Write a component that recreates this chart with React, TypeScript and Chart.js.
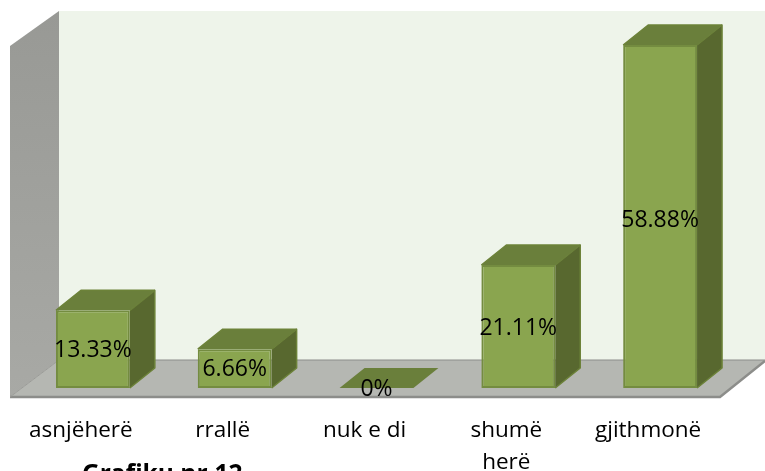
import React, { useEffect, useRef } from "react";
import { Chart, registerables } from "chart.js";

Chart.register(...registerables);

const categories: (string | string[])[] = ["asnjëherë", "rrallë", "nuk e di", ["shumë", "herë"], "gjithmonë"];
const values = [13.33, 6.66, 0, 21.11, 58.88];
const valueLabels = ["13.33%", "6.66%", "0%", "21.11%", "58.88%"];
const titleText = "Grafiku nr.12";

const FONT = '"Open Sans", sans-serif';
const DX = 25;
const DY = 20;

const poly = (ctx: CanvasRenderingContext2D, pts: number[][], fill: string | CanvasGradient) => {
  ctx.beginPath();
  pts.forEach((p, i) => (i ? ctx.lineTo(p[0], p[1]) : ctx.moveTo(p[0], p[1])));
  ctx.closePath();
  ctx.fillStyle = fill;
  ctx.fill();
};

const box3d = {
  id: "box3d",
  beforeDatasetsDraw(chart: any) {
    const ctx: CanvasRenderingContext2D = chart.ctx;
    const base = chart.scales.y.getPixelForValue(0);
    const top = chart.scales.y.getPixelForValue(values[4]);
    const floorFront = base + 9;
    const floorBack = base - 28;
    const wallTop = top - 34;
    const xl = 10;
    const xb = 59;
    const W = chart.width;
    ctx.save();
    poly(ctx, [[xb, wallTop], [W, wallTop], [W, floorBack], [xb, floorBack]], "#eef4ea");
    const g = ctx.createLinearGradient(0, wallTop, 0, floorFront);
    g.addColorStop(0, "#989995");
    g.addColorStop(1, "#a8a9a5");
    poly(ctx, [[xb, wallTop], [xb, floorBack], [xl, floorFront], [xl, wallTop + 35]], g);
    poly(ctx, [[xb, floorBack], [W, floorBack], [W, floorBack + 1], [720, floorFront], [xl, floorFront]], "#b5b7b2");
    ctx.strokeStyle = "#8c8d8a";
    ctx.lineWidth = 1;
    ctx.beginPath();
    ctx.moveTo(xb, floorBack);
    ctx.lineTo(W, floorBack);
    ctx.stroke();
    ctx.lineWidth = 2.5;
    ctx.beginPath();
    ctx.moveTo(xl, floorFront);
    ctx.lineTo(720, floorFront);
    ctx.lineTo(W, floorBack + 1);
    ctx.stroke();
    ctx.lineWidth = 1;
    ctx.beginPath();
    ctx.moveTo(xl, floorFront);
    ctx.lineTo(xb, floorBack);
    ctx.strokeStyle = "#9a9b97";
    ctx.stroke();

    chart.getDatasetMeta(0).data.forEach((bar: any, i: number) => {
      const half = bar.width / 2;
      const l = bar.x - half;
      const r = bar.x + half;
      const t = bar.y;
      const b = bar.base;
      if (values[i] > 0) {
        poly(ctx, [[r, t], [r + DX, t - DY], [r + DX, b - DY], [r, b]], "#58682f");
        ctx.strokeStyle = "#6c8239";
        ctx.lineWidth = 1.5;
        ctx.lineJoin = "round";
        ctx.beginPath();
        ctx.moveTo(r, t);
        ctx.lineTo(r + DX, t - DY);
        ctx.lineTo(r + DX, b - DY);
        ctx.lineTo(r, b);
        ctx.stroke();
      }
      poly(ctx, [[l, t], [r, t], [r + DX, t - DY], [l + DX, t - DY]], "#6a7f3b");
      if (values[i] > 0) {
        ctx.beginPath();
        ctx.moveTo(l, t);
        ctx.lineTo(l + DX, t - DY);
        ctx.lineTo(r + DX, t - DY);
        ctx.stroke();
      }
    });
    ctx.restore();
  },
  afterDatasetsDraw(chart: any) {
    const ctx: CanvasRenderingContext2D = chart.ctx;
    ctx.save();
    ctx.font = `23px ${FONT}`;
    ctx.fillStyle = "#000";
    ctx.textAlign = "center";
    ctx.textBaseline = "middle";
    chart.getDatasetMeta(0).data.forEach((bar: any, i: number) => {
      const cy = bar.base - (bar.base - bar.y) * 0.4927 + 1;
      ctx.fillText(valueLabels[i], bar.x, cy);
    });
    ctx.font = `bold 24.5px ${FONT}`;
    ctx.textAlign = "left";
    ctx.textBaseline = "alphabetic";
    ctx.fillText(titleText, 82, 482);
    ctx.restore();
  },
};

export default function App() {
  const ref = useRef<HTMLCanvasElement>(null);
  useEffect(() => {
    const chart = new Chart(ref.current!, {
      type: "bar",
      data: {
        labels: categories,
        datasets: [
          {
            data: values,
            backgroundColor: "#8aa54f",
            borderColor: "#748c40",
            borderWidth: (c: any) => (values[c.dataIndex] > 0 ? 2 : 0),
            borderSkipped: false,
            categoryPercentage: 1,
            barPercentage: 0.521,
          },
        ],
      },
      options: {
        responsive: false,
        animation: false,
        layout: { padding: { left: 22, right: 34, top: 45, bottom: 4 } },
        plugins: {
          legend: { display: false },
          tooltip: { enabled: false },
          title: { display: false },
        },
        scales: {
          x: {
            grid: { display: false },
            border: { display: false },
            afterFit: (s: any) => {
              s.height = 98;
            },
            ticks: {
              color: "#000",
              font: { family: FONT, size: 22.5, lineHeight: 1.45 },
              padding: 18,
              labelOffset: -12,
              maxRotation: 0,
              autoSkip: false,
            },
          },
          y: { display: false, min: 0, max: values[4] },
        },
      },
      plugins: [box3d],
    } as any);
    return () => chart.destroy();
  }, []);
  return (
    <div style={{ position: "fixed", left: 0, top: 0, width: 765, height: 471, overflow: "hidden", background: "#fff" }}>
      <canvas ref={ref} width={765} height={490} style={{ display: "block" }} />
    </div>
  );
}
